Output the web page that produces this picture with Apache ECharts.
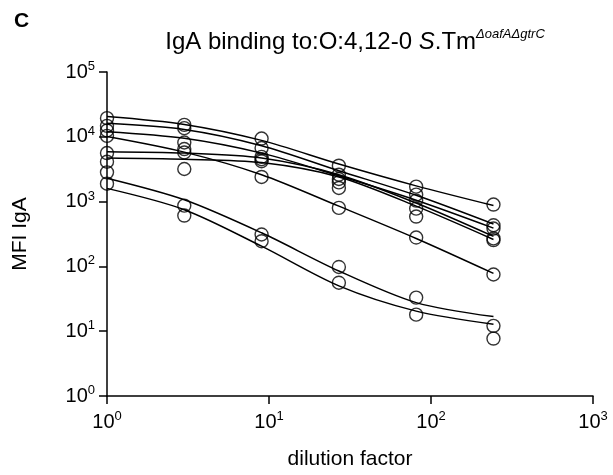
<!DOCTYPE html>
<html>
<head>
<meta charset="utf-8">
<script src="https://cdn.jsdelivr.net/npm/echarts@6/dist/echarts.min.js"></script>
<style>
html,body{margin:0;padding:0;background:#fff;}
#chart{width:613px;height:475px;}
</style>
</head>
<body>
<div id="chart"></div>
<script>
// dilution factors (x)
const dilutions = [1, 3, 9, 27, 81, 243];

// measured points per sample (MFI IgA)
const s1Points = [19400, 15300, 9400, 3580, 1700, 900];
const s2Points = [14750, 13600, 6700, 2600, 1280, 432];
const s3Points = [12500, 8170, 4900, 2234, 1036, 384];
const s4Points = [10350, 5730, 2400, 800, 279, 75];
const s5Points = [5610, 6470, 4500, 1980, 780, 270];
const s6Points = [4125, 3185, 4200, 1625, 588, 254];
const s7Points = [2825, 868, 311, 98, 33, 12.1];
const s8Points = [1890, 609, 245, 56, 18, 7.7];

// fitted curves read at each dilution
const s1Fit = [20500, 15500, 8800, 3800, 1750, 870];
const s2Fit = [16200, 13000, 7300, 3000, 1250, 450];
const s3Fit = [12000, 9500, 5600, 2500, 1050, 390];
const s4Fit = [10100, 5800, 2600, 850, 270, 78];
const s5Fit = [5900, 5600, 4700, 2600, 950, 290];
const s6Fit = [4700, 4500, 4000, 2400, 850, 260];
const s7Fit = [2300, 1070, 330, 85, 27.6, 16.8];
const s8Fit = [1600, 750, 205, 50, 20.4, 12.8];

const pointSets = [s1Points, s2Points, s3Points, s4Points, s5Points, s6Points, s7Points, s8Points];
const fitSets = [s1Fit, s2Fit, s3Fit, s4Fit, s5Fit, s6Fit, s7Fit, s8Fit];

const FONT = 'Liberation Sans, Arial, sans-serif';
const chart = echarts.init(document.getElementById('chart'));

const series = [];
fitSets.forEach(function (f) {
  series.push({
    type: 'line',
    data: dilutions.map(function (d, i) { return [d, f[i]]; }),
    showSymbol: false,
    smooth: 0.3,
    lineStyle: { color: '#000', width: 1.5 },
    silent: true,
    z: 2
  });
});
pointSets.forEach(function (p) {
  series.push({
    type: 'scatter',
    data: dilutions.map(function (d, i) { return [d, p[i]]; }),
    symbol: 'circle',
    symbolSize: 13,
    itemStyle: { color: 'rgba(0,0,0,0)', borderColor: '#000', borderWidth: 1.4 },
    z: 3
  });
});

const powLabel = function (v) {
  return '{b|10}{s|' + Math.round(Math.log10(v)) + '}';
};
const labelRich = {
  b: { fontFamily: FONT, fontSize: 20, color: '#000' },
  s: { fontFamily: FONT, fontSize: 13, color: '#000', padding: [0, 0, 11, 0] }
};

chart.setOption({
  backgroundColor: '#fff',
  animation: false,
  title: [
    {
      text: 'C', left: 9, top: 6,
      textStyle: { fontFamily: FONT, fontSize: 21, fontWeight: 'bold', color: '#000' }
    },
    {
      text: '{n|IgA binding to:O:4,12-0 }{i|S}{n|.Tm}{sup|ΔoafAΔgtrC}',
      left: 350, top: 23, textAlign: 'center',
      textStyle: {
        fontWeight: 'normal',
        rich: {
          n: { fontFamily: FONT, fontSize: 24, fontWeight: 'normal', color: '#000' },
          i: { fontFamily: FONT, fontSize: 24, fontStyle: 'italic', fontWeight: 'normal', color: '#000' },
          sup: { fontFamily: FONT, fontSize: 13, fontStyle: 'italic', fontWeight: 'normal', color: '#000', padding: [0, 0, 15, 0] }
        }
      }
    }
  ],
  grid: { left: 107, right: 20, top: 72, bottom: 78, containLabel: false },
  xAxis: {
    type: 'log', logBase: 10, min: 1, max: 1000,
    name: 'dilution factor', nameLocation: 'middle', nameGap: 53,
    nameTextStyle: { fontFamily: FONT, fontSize: 21, color: '#000' },
    axisLine: { lineStyle: { color: '#000', width: 1.5 } },
    axisTick: { show: true, inside: false, length: 8, lineStyle: { color: '#000', width: 1.5 } },
    axisLabel: { formatter: powLabel, rich: labelRich, margin: 14 },
    splitLine: { show: false },
    minorTick: { show: false }
  },
  yAxis: {
    type: 'log', logBase: 10, min: 1, max: 100000,
    name: 'MFI IgA', nameLocation: 'middle', nameGap: 76, nameRotate: 90,
    nameTextStyle: { fontFamily: FONT, fontSize: 21, color: '#000' },
    axisLine: { show: true, lineStyle: { color: '#000', width: 1.5 } },
    axisTick: { show: true, inside: false, length: 8, lineStyle: { color: '#000', width: 1.5 } },
    axisLabel: { formatter: powLabel, rich: labelRich, margin: 12 },
    splitLine: { show: false },
    minorTick: { show: false }
  },
  series: series
});
</script>
</body>
</html>
